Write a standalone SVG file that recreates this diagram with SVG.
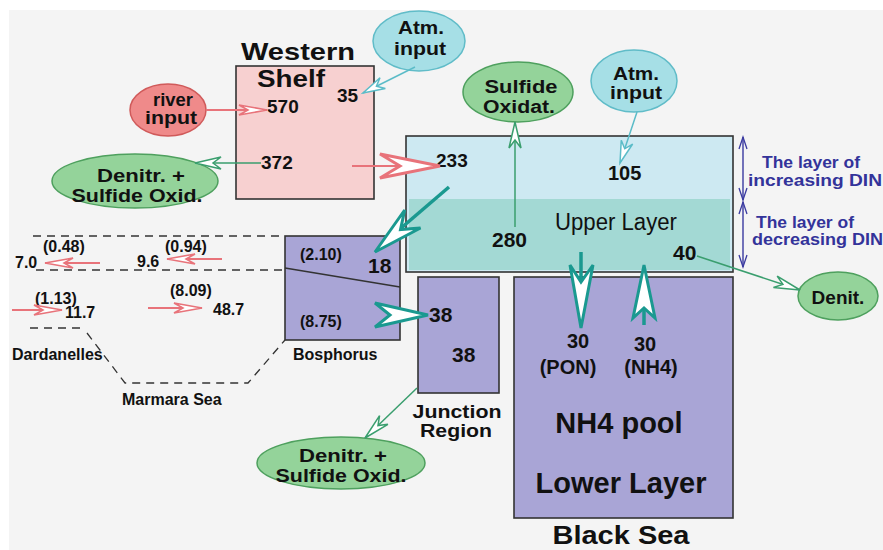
<svg xmlns="http://www.w3.org/2000/svg" width="883" height="550" viewBox="0 0 883 550">
<style>
text{font-family:"Liberation Sans",Arial,sans-serif;fill:#111}
.b{font-weight:bold}
.box{stroke:#333;stroke-width:1.6}
.lav{fill:#a9a5d6}
.g{stroke:#3a9e6e;stroke-width:1.5;fill:none}
.c{stroke:#5bbcc8;stroke-width:1.5;fill:none}
.r{stroke:#e8737a;stroke-width:2;fill:none}
.bl{stroke:#3a3aa0;stroke-width:1.4;fill:none}
.dash{stroke:#333;stroke-width:1.3;stroke-dasharray:8 6;fill:none}
.ell-g{fill:#94d39a;stroke:#4ea05e;stroke-width:1.5}
.ell-c{fill:#a6dfe6;stroke:#60bcc8;stroke-width:1.5}
.ell-r{fill:#ef8a8a;stroke:#d05a5a;stroke-width:1.5}
.teal{fill:#fff;stroke:#1a9990;stroke-width:3;stroke-linejoin:miter}
.tealL{stroke:#1a9990;stroke-width:3.5;fill:none}
.blue{fill:#33339a;font-weight:bold}
.lbl{font-weight:bold;font-size:18px}
</style>
<defs>
<marker id="mg" viewBox="0 0 26 12" refX="26" refY="6" markerWidth="26" markerHeight="12" markerUnits="userSpaceOnUse" orient="auto" overflow="visible"><path d="M0,0 L26,6 L0,12 L8,6 Z" fill="#fff" stroke="#3a9e6e" stroke-width="1.5"/></marker>
<marker id="mc" viewBox="0 0 22 12" refX="22" refY="6" markerWidth="22" markerHeight="12" markerUnits="userSpaceOnUse" orient="auto" overflow="visible"><path d="M0,0 L22,6 L0,12 L7,6 Z" fill="#fff" stroke="#5bbcc8" stroke-width="1.5"/></marker>
<marker id="mr" viewBox="0 0 28 12" refX="28" refY="6" markerWidth="28" markerHeight="12" markerUnits="userSpaceOnUse" orient="auto" overflow="visible"><path d="M0,1 L28,6 L0,11 L9,6 Z" fill="#fff" stroke="#e8737a" stroke-width="1.6"/></marker>
<marker id="mb" viewBox="0 0 12 8" refX="12" refY="4" markerWidth="12" markerHeight="8" markerUnits="userSpaceOnUse" orient="auto-start-reverse" overflow="visible"><path d="M0,0 L12,4 L0,8" fill="none" stroke="#3a3aa0" stroke-width="1.3"/></marker>
</defs>
<rect width="883" height="550" fill="#f4f4f4"/>
<rect width="883" height="10" fill="#fff"/>
<rect width="9" height="550" fill="#fff"/>

<g id="western-shelf">
<rect class="box" x="236" y="66" width="138" height="133" fill="#f7d0d0"/>
<text class="b" x="298" y="60" font-size="24" text-anchor="middle" textLength="114" lengthAdjust="spacingAndGlyphs">Western</text>
<text class="b" x="291" y="87" font-size="24" text-anchor="middle" textLength="68" lengthAdjust="spacingAndGlyphs">Shelf</text>
<text class="b" x="267" y="113" font-size="19">570</text>
<text class="b" x="337" y="102" font-size="19">35</text>
<text class="b" x="261" y="169" font-size="19">372</text>
</g>

<g id="river-input">
<ellipse class="ell-r" cx="168" cy="110" rx="38" ry="26"/>
<text class="lbl" x="173" y="106" text-anchor="middle" textLength="40" lengthAdjust="spacingAndGlyphs">river</text>
<text class="lbl" x="171" y="124" text-anchor="middle" textLength="52" lengthAdjust="spacingAndGlyphs">input</text>
</g>

<g id="atm-input-shelf">
<ellipse class="ell-c" cx="419" cy="41" rx="46" ry="30"/>
<text class="lbl" x="421" y="34" text-anchor="middle" textLength="46" lengthAdjust="spacingAndGlyphs">Atm.</text>
<text class="lbl" x="420" y="55" text-anchor="middle" textLength="52" lengthAdjust="spacingAndGlyphs">input</text>
</g>

<g id="denitr-shelf">
<ellipse class="ell-g" cx="135" cy="181" rx="83" ry="27"/>
<text class="lbl" x="141" y="182" text-anchor="middle" textLength="88" lengthAdjust="spacingAndGlyphs">Denitr. +</text>
<text class="lbl" x="137" y="202" text-anchor="middle" textLength="131" lengthAdjust="spacingAndGlyphs">Sulfide Oxid.</text>
</g>

<g id="upper-layer">
<rect x="406" y="136" width="327" height="136" fill="#cde9f2"/>
<rect x="409" y="199" width="321" height="71" fill="#a3d9d4"/>
<rect class="box" x="406" y="136" width="327" height="136" fill="none"/>
<text class="b" x="436" y="167" font-size="19">233</text>
<text class="b" x="608" y="180" font-size="20">105</text>
<text x="616" y="230" font-size="23" text-anchor="middle" textLength="122" lengthAdjust="spacingAndGlyphs">Upper Layer</text>
<text class="b" x="492" y="247" font-size="21">280</text>
<text class="b" x="673" y="260" font-size="21">40</text>
</g>

<g id="sulfide-oxidat">
<ellipse class="ell-g" cx="518" cy="92" rx="55" ry="30"/>
<text class="lbl" x="521" y="93" text-anchor="middle" textLength="73" lengthAdjust="spacingAndGlyphs">Sulfide</text>
<text class="lbl" x="519" y="113" text-anchor="middle" textLength="72" lengthAdjust="spacingAndGlyphs">Oxidat.</text>
</g>

<g id="atm-input-upper">
<ellipse class="ell-c" cx="634" cy="81" rx="43" ry="31"/>
<text class="lbl" x="636" y="80" text-anchor="middle" textLength="46" lengthAdjust="spacingAndGlyphs">Atm.</text>
<text class="lbl" x="636" y="99" text-anchor="middle" textLength="52" lengthAdjust="spacingAndGlyphs">input</text>
</g>

<g id="denit">
<ellipse class="ell-g" cx="838" cy="296" rx="40" ry="24"/>
<text class="b" x="838" y="304" font-size="19" text-anchor="middle">Denit.</text>
</g>

<g id="layer-labels">
<text class="blue" x="762" y="168" font-size="16" textLength="98" lengthAdjust="spacingAndGlyphs">The layer of</text>
<text class="blue" x="748" y="186" font-size="16" textLength="134" lengthAdjust="spacingAndGlyphs">increasing DIN</text>
<text class="blue" x="756" y="228" font-size="16" textLength="98" lengthAdjust="spacingAndGlyphs">The layer of</text>
<text class="blue" x="752" y="245" font-size="16" textLength="131" lengthAdjust="spacingAndGlyphs">decreasing DIN</text>
</g>

<g id="bosphorus">
<rect class="box lav" x="285" y="236" width="115" height="104"/>
<line x1="285" y1="268" x2="400" y2="287" stroke="#333" stroke-width="1.5"/>
<text class="b" x="300" y="260" font-size="16">(2.10)</text>
<text class="b" x="368" y="273" font-size="21">18</text>
<text class="b" x="300" y="327" font-size="16">(8.75)</text>
<text class="b" x="293" y="360" font-size="16">Bosphorus</text>
</g>

<g id="junction-region">
<rect class="box lav" x="418" y="277" width="81" height="116"/>
<text class="b" x="429" y="322" font-size="21">38</text>
<text class="b" x="452" y="362" font-size="21">38</text>
<text class="lbl" x="457" y="418" text-anchor="middle" textLength="89" lengthAdjust="spacingAndGlyphs">Junction</text>
<text class="lbl" x="456" y="437" text-anchor="middle" textLength="72" lengthAdjust="spacingAndGlyphs">Region</text>
</g>

<g id="denitr-junction">
<ellipse class="ell-g" cx="341" cy="463" rx="84" ry="26"/>
<text class="lbl" x="343" y="462" text-anchor="middle" textLength="88" lengthAdjust="spacingAndGlyphs">Denitr. +</text>
<text class="lbl" x="341" y="482" text-anchor="middle" textLength="131" lengthAdjust="spacingAndGlyphs">Sulfide Oxid.</text>
</g>

<g id="lower-layer">
<rect class="box lav" x="514" y="277" width="219" height="241"/>
<text class="b" x="578" y="348" font-size="20" text-anchor="middle">30</text>
<text class="b" x="568" y="374" font-size="20" text-anchor="middle">(PON)</text>
<text class="b" x="645" y="351" font-size="20" text-anchor="middle">30</text>
<text class="b" x="651" y="374" font-size="20" text-anchor="middle">(NH4)</text>
<text class="b" x="619" y="433" font-size="29" text-anchor="middle">NH4 pool</text>
<text class="b" x="621" y="493" font-size="29" text-anchor="middle">Lower Layer</text>
<text class="b" x="621" y="544" font-size="26" text-anchor="middle" textLength="137" lengthAdjust="spacingAndGlyphs">Black Sea</text>
</g>

<g id="marmara">
<path class="dash" d="M33,236 H282 M36,270 H285 M30,328 H84 M87,333 L125,383 H248 L285,340"/>
<text class="b" x="15" y="268" font-size="16">7.0</text>
<text class="b" x="43" y="252" font-size="16">(0.48)</text>
<text class="b" x="137" y="267" font-size="16">9.6</text>
<text class="b" x="165" y="252" font-size="16">(0.94)</text>
<text class="b" x="35" y="304" font-size="16">(1.13)</text>
<text class="b" x="65" y="318" font-size="16">11.7</text>
<text class="b" x="170" y="296" font-size="16">(8.09)</text>
<text class="b" x="213" y="315" font-size="16">48.7</text>
<text class="b" x="12" y="360" font-size="16">Dardanelles</text>
<text class="b" x="122" y="405" font-size="16">Marmara Sea</text>
</g>

<g id="connectors">
<line class="r" x1="206" y1="110" x2="267" y2="110" marker-end="url(#mr)"/>
<line class="c" x1="415" y1="67" x2="363" y2="93" marker-end="url(#mc)"/>
<line class="g" x1="261" y1="163" x2="195" y2="163" marker-end="url(#mg)"/>
<line class="r" x1="352" y1="166" x2="400" y2="166" stroke-width="3.5"/>
<polygon points="440,166 380,154 400,166 380,178" fill="#fff" stroke="#e8737a" stroke-width="3"/>
<line class="tealL" x1="449" y1="187" x2="400" y2="229"/>
<polygon class="teal" points="375,252 404.7,210 400.5,229.6 420.5,228"/>
<line class="g" x1="515" y1="227" x2="515" y2="122" marker-end="url(#mg)"/>
<line class="c" x1="637" y1="112" x2="620" y2="163" marker-end="url(#mc)"/>
<line class="g" x1="697" y1="256" x2="800" y2="290" marker-end="url(#mg)"/>
<polygon class="teal" points="428,315 375,303 390,315 375,327"/>
<line class="tealL" x1="581" y1="252" x2="581" y2="282"/>
<polygon class="teal" points="581,328 570,265 581,282 593,265"/>
<line class="tealL" x1="644" y1="325" x2="644" y2="308"/>
<polygon class="teal" points="644,265 633,318 644,308 655,318"/>
<line class="g" x1="417" y1="388" x2="365" y2="438" marker-end="url(#mg)"/>
<line class="r" x1="100" y1="263" x2="45" y2="263" marker-end="url(#mr)"/>
<line class="r" x1="222" y1="259" x2="167" y2="259" marker-end="url(#mr)"/>
<line class="r" x1="12" y1="310" x2="62" y2="310" marker-end="url(#mr)"/>
<line class="r" x1="148" y1="308" x2="202" y2="308" marker-end="url(#mr)"/>
<line class="bl" x1="743" y1="137" x2="743" y2="200" marker-start="url(#mb)" marker-end="url(#mb)"/>
<line class="bl" x1="743" y1="202" x2="743" y2="267" marker-start="url(#mb)" marker-end="url(#mb)"/>
</g>
</svg>
